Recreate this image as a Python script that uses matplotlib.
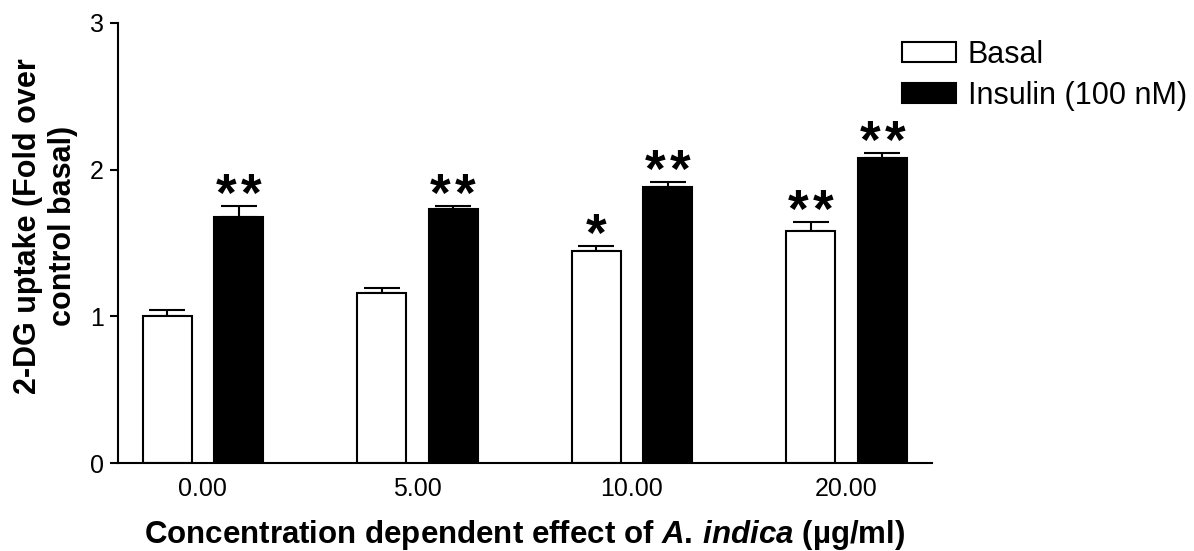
"""
2-DG uptake bar chart (basal vs insulin) for A. indica concentrations
"""

import matplotlib

matplotlib.use("Agg")
import matplotlib.pyplot as plt
import numpy as np
from matplotlib.patches import Patch

plt.rcParams["font.family"] = "Liberation Sans"
plt.rcParams["mathtext.fontset"] = "custom"
plt.rcParams["mathtext.it"] = "Liberation Sans:bold:italic"
plt.rcParams["mathtext.rm"] = "Liberation Sans:bold"

# data
concentrations = ["0.00", "5.00", "10.00", "20.00"]
basal_mean = [1.00, 1.157, 1.442, 1.58]
basal_sem = [0.045, 0.038, 0.035, 0.06]
insulin_mean = [1.68, 1.731, 1.879, 2.077]
insulin_sem = [0.073, 0.02, 0.034, 0.034]
basal_sig = ["", "", "*", "**"]
insulin_sig = ["**", "**", "**", "**"]


def add_stars(ax, xs, means, sems, marks):
    """Put each asterisk on its own so the pair is spaced like the original."""
    step = 18  # points between star centres
    for xi, m, e, s in zip(xs, means, sems, marks):
        n = len(s)
        for i in range(n):
            dx = (i - (n - 1) / 2) * step
            ax.annotate("*", (xi, m + e), xytext=(dx, -3.4), textcoords="offset points",
                        ha="center", va="baseline", fontsize=38, fontweight="bold")


def main():
    fig = plt.figure(figsize=(11.94, 5.51), dpi=100)
    ax = fig.add_axes([0.0988, 0.1597, 0.6815, 0.7986])

    x = np.arange(len(concentrations))
    width = 0.228
    offset = 0.166
    lw = 1.5

    ax.bar(x - offset, basal_mean, width, color="white", edgecolor="black",
           linewidth=lw, zorder=2)
    ax.bar(x + offset, insulin_mean, width, color="black", edgecolor="black",
           linewidth=lw, zorder=2)

    # upper error bars only
    ax.errorbar(x - offset, basal_mean, yerr=[np.zeros(4), basal_sem], fmt="none",
                ecolor="black", elinewidth=lw, capsize=13, capthick=lw, zorder=1)
    ax.errorbar(x + offset, insulin_mean, yerr=[np.zeros(4), insulin_sem], fmt="none",
                ecolor="black", elinewidth=lw, capsize=13, capthick=lw, zorder=1)

    add_stars(ax, x - offset, basal_mean, basal_sem, basal_sig)
    add_stars(ax, x + offset, insulin_mean, insulin_sem, insulin_sig)

    ax.set_xlim(-0.396, 3.397)
    ax.set_ylim(0, 3)
    ax.set_yticks([0, 1, 2, 3])
    ax.set_xticks(x)
    ax.set_xticklabels(concentrations)
    ax.tick_params(axis="x", length=0, labelsize=18, pad=10)
    ax.tick_params(axis="y", length=6, width=lw, labelsize=18, pad=4)

    for side in ["top", "right"]:
        ax.spines[side].set_visible(False)
    for side in ["left", "bottom"]:
        ax.spines[side].set_linewidth(lw)

    ax.set_ylabel("2-DG uptake (Fold over\ncontrol basal)", fontsize=22,
                  fontweight="bold", multialignment="center")
    ax.yaxis.set_label_coords(-0.049, 0.539)
    ax.set_xlabel(r"Concentration dependent effect of $\mathit{A.\,indica}$ (µg/ml)",
                  fontsize=22.5, fontweight="bold", labelpad=12)

    handles = [
        Patch(facecolor="white", edgecolor="black", linewidth=lw, label="Basal"),
        Patch(facecolor="black", edgecolor="black", linewidth=lw, label="Insulin (100 nM)"),
    ]
    fig.legend(handles=handles, loc="upper left", bbox_to_anchor=(901.7 / 1194, 0.928),
               frameon=False, fontsize=22, handlelength=1.77, handleheight=0.62,
               handletextpad=0.39, labelspacing=0.36, borderpad=0, borderaxespad=0)

    fig.savefig("out.png", dpi=100)
    plt.close(fig)


if __name__ == "__main__":
    main()
